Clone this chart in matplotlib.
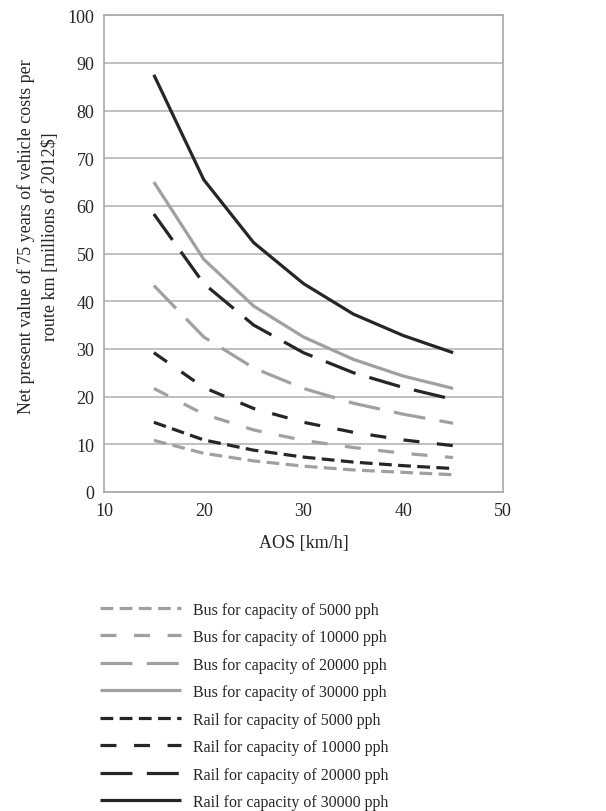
import numpy as np
import matplotlib.pyplot as plt

plt.rcParams['font.family'] = ['Liberation Serif', 'DejaVu Serif']

# AOS values (km/h)
aos = [15, 20, 25, 30, 35, 40, 45]

# Net present value of vehicle costs (millions of 2012$) per route km
bus_5000 = [10.8, 8.1, 6.5, 5.4, 4.6, 4.1, 3.6]
bus_10000 = [21.7, 16.3, 13.0, 10.8, 9.3, 8.1, 7.2]
bus_20000 = [43.3, 32.5, 26.0, 21.7, 18.6, 16.3, 14.4]
bus_30000 = [65.0, 48.8, 39.0, 32.5, 27.8, 24.3, 21.7]
rail_5000 = [14.6, 10.9, 8.75, 7.3, 6.25, 5.5, 4.9]
rail_10000 = [29.2, 21.9, 17.5, 14.6, 12.5, 10.9, 9.7]
rail_20000 = [58.3, 43.7, 35.0, 29.2, 25.0, 21.9, 19.4]
rail_30000 = [87.5, 65.5, 52.3, 43.7, 37.3, 32.8, 29.2]

labels = ['Bus for capacity of 5000 pph', 'Bus for capacity of 10000 pph',
          'Bus for capacity of 20000 pph', 'Bus for capacity of 30000 pph',
          'Rail for capacity of 5000 pph', 'Rail for capacity of 10000 pph',
          'Rail for capacity of 20000 pph', 'Rail for capacity of 30000 pph']

series = [bus_5000, bus_10000, bus_20000, bus_30000,
          rail_5000, rail_10000, rail_20000, rail_30000]

gray = '#a0a0a0'
dark = '#262626'
colors = [gray] * 4 + [dark] * 4
dash_styles = [(4, 2), (5, 5.5), (10, 4.5), None] * 2

fig = plt.figure(figsize=(6.06, 8.12), dpi=100)
ax = fig.add_axes([0.1716, 0.393, 0.6584, 0.587])

for y, lab, c, d in zip(series, labels, colors, dash_styles):
    line, = ax.plot(aos, y, color=c, lw=2.3, label=lab, solid_capstyle='butt',
                    dash_capstyle='butt')
    if d is not None:
        line.set_dashes(d)

ax.set_xlim(10, 50)
ax.set_ylim(0, 100)
ax.set_xticks(np.arange(10, 51, 10))
ax.set_yticks(np.arange(0, 101, 10))
ax.tick_params(length=0, labelsize=13, colors='#262626', pad=7)
ax.yaxis.grid(True, color='#b5b5b5', lw=1.2)
ax.set_axisbelow(True)
for s in ax.spines.values():
    s.set_color('#a8a8a8')
    s.set_linewidth(1.2)

ax.set_xlabel('AOS [km/h]', fontsize=13, color='#262626', labelpad=11)
ax.set_ylabel('Net present value of 75 years of vehicle costs per\nroute km [millions of 2012\\$]',
              fontsize=13, color='#262626', linespacing=1.5)
ax.yaxis.set_label_coords(-0.113, 0.537)

fig.legend(loc='upper left', bbox_to_anchor=(100 / 606, 0.258), frameon=False,
           fontsize=11.5, handlelength=5.1, handletextpad=0.75, labelspacing=0.72,
           borderpad=0, borderaxespad=0, labelcolor='#262626')

plt.savefig('out.png', dpi=100)
